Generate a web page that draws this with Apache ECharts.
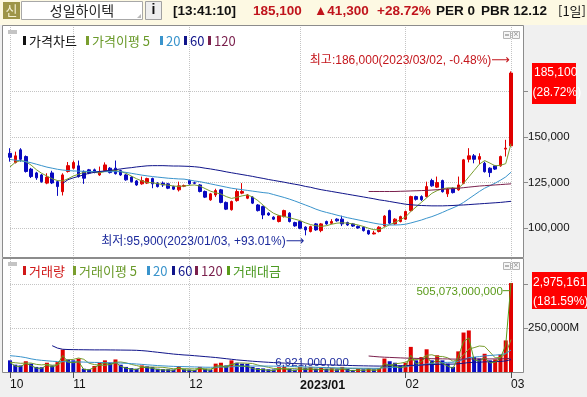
<!DOCTYPE html>
<html lang="ko">
<head>
<meta charset="utf-8">
<title>성일하이텍</title>
<script src="https://cdn.jsdelivr.net/npm/echarts@6.0.0/dist/echarts.min.js"></script>
<style>
  html, body { margin: 0; padding: 0; background: #f0f0f0; }
  #chart { width: 587px; height: 397px; }
</style>
</head>
<body>
<div id="chart"></div>
<script>
// 거래일 (월별)
const tradingDays = {
  '2022/10': [14, 17, 18, 19, 20, 21, 24, 25, 26, 27, 28, 31],
  '2022/11': [1, 2, 3, 4, 7, 8, 9, 10, 11, 14, 15, 16, 17, 18, 21, 22, 23, 24, 25, 28, 29, 30],
  '2022/12': [1, 2, 5, 6, 7, 8, 9, 12, 13, 14, 15, 16, 19, 20, 21, 22, 23, 26, 27, 28, 29],
  '2023/01': [2, 3, 4, 5, 6, 9, 10, 11, 12, 13, 16, 17, 18, 19, 20, 25, 26, 27, 30, 31],
  '2023/02': [1, 2, 3, 6, 7, 8, 9, 10, 13, 14, 15, 16, 17, 20, 21, 22, 23, 24, 27, 28],
  '2023/03': [2]
};

// 일봉 [시가, 종가, 저가, 고가]
const ohlc = [
  [141000,138800,136400,143800],[135900,139600,135400,141900],[142900,137700,136400,143800],[139200,131000,130400,139800],
  [132300,128200,127400,133000],[130200,127500,126400,130800],[129100,125400,124800,129600],[124600,127900,124000,130000],
  [130200,124700,124100,131400],[125400,122700,117600,126000],[119900,129100,117800,130000],[131000,134200,130400,136200],
  [132800,135900,132200,137000],[134100,128200,127600,137000],[131000,127300,124200,131600],[131900,130100,129500,132400],
  [131900,130600,130000,132600],[129100,130900,128600,133700],[131500,134600,131000,136000],[132800,130400,129900,133400],
  [132800,129800,129300,137000],[131500,129100,128600,132000],[129100,126400,125900,129600],[127900,125400,124900,128400],
  [125800,123600,123100,126300],[124200,126000,123700,128200],[124600,127100,124100,127600],[127100,124200,121800,127600],
  [124600,122700,122200,125100],[124600,123600,122500,125500],[124200,121800,121300,124700],[122700,121300,120800,123200],
  [120900,123100,120000,125400],[122900,123300,122400,123800],[126000,124200,123700,126500],[124800,124500,124000,125400],
  [123600,120000,119500,124100],[120000,116900,116400,120500],[115400,118700,114900,119200],[118100,120500,117000,121500],
  [120900,114000,113500,121400],[114000,110300,109800,114500],[110000,114500,109500,115000],[115000,120000,114400,121300],
  [119100,120000,118500,124600],[116300,118100,115800,118600],[116900,113600,113100,117400],[112600,109500,109000,113100],
  [111700,107100,104800,112200],[108100,107100,106600,108600],[105900,104800,104300,106400],[103500,106600,103000,107100],
  [106200,109500,105700,110000],[108100,103500,103000,108600],[102900,101100,100600,103400],[103500,99800,99300,104000],
  [100400,98900,95900,100900],[98000,100700,97500,101200],[102200,98900,98400,102700],[98500,102200,97600,102700],
  [103500,102200,101700,104000],[102500,103500,102000,104800],[104800,103900,103400,105300],[104800,102200,101000,106700],
  [102900,101600,101100,103400],[102200,101000,100500,102700],[100800,100000,99500,101300],[100400,98500,98000,100900],
  [98500,96700,96200,99000],[96700,97200,96400,98400],[98000,100400,97500,100900],[101100,106500,100600,107000],
  [109500,102600,102100,110000],[102200,104800,101700,105300],[103500,106200,103000,106700],[104800,109000,104300,109500],
  [109500,117200,109000,117700],[117200,115700,115000,117700],[117200,115500,114800,117900],[117200,122700,116700,125400],
  [126000,123100,122600,127000],[122400,124900,121900,128200],[126000,119900,119400,126500],[118700,121300,117000,121800],
  [121800,119400,118900,122300],[120900,123600,120400,128200],[124500,137400,124000,137900],[137700,139600,136000,143800],
  [139600,137700,135500,140600],[137700,139200,135000,141000],[135500,130900,130400,136400],[132800,130400,127900,133300],
  [134100,132300,131800,134600],[134100,139200,133600,139700],[143300,143800,139200,148400],[145100,185100,144600,186000]
];

// 가격 이동평균
const ma5 = [
  133500,136000,137000,136400,134500,132000,130000,128500,127000,126000,
  125800,127000,128500,129500,130500,131000,130500,130200,131000,131500,
  131500,131000,130000,128500,127000,125800,125000,124800,124300,123800,
  123500,123000,122800,123000,123400,123600,123000,121600,120200,119300,
  118600,117200,116200,116800,117600,118100,117000,115000,112500,110000,
  108000,106800,106200,105600,104800,104000,102800,101800,101200,100800,
  101200,102000,102600,102800,102600,102200,101600,100800,99800,99000,
  99000,100300,101800,103000,104500,106000,109000,111500,114000,116500,
  119000,120500,121500,122000,122000,121700,124500,128000,131500,135000,
  137000,135600,134100,134400,135300,146200
];
const ma20 = [
  137600,137200,136900,136400,135800,135000,134200,133400,132800,132200,
  131800,131500,131300,131200,131100,131000,130900,130900,130900,130900,
  130900,130900,130500,130000,129500,129000,128600,128200,127900,127600,
  127300,127100,126900,126800,126300,125800,125400,124800,124200,123600,
  123000,122400,121800,121400,121000,120600,120200,119800,119400,119100,
  118300,117500,116700,115800,114800,113700,112600,111500,110300,109300,
  108500,107800,107000,106300,105600,105000,104400,103800,103200,102600,
  102100,101800,101600,101600,101700,102000,102700,103500,104300,105300,
  106200,107300,108500,109800,111000,112300,114000,116000,118000,120000,
  121800,123200,124600,126200,128000,130600
];
const ma60Start = 10;
const ma60 = [
  124500,126500,127500,128300,129200,130000,130500,131000,131300,131600,
  132000,132400,132800,133100,133500,133800,134100,134200,134200,134200,
  134100,134000,134000,133900,133800,133600,133300,132800,132400,131900,
  131400,130800,130300,129800,129300,128800,128300,127700,127200,126600,
  126100,125600,125100,124500,124000,123500,122800,122300,121600,121000,
  120500,120000,119500,119000,118500,118000,117500,117000,116500,116000,
  115400,115000,114500,114000,113500,113000,112700,112500,112300,112200,
  112100,112100,112100,112200,112300,112500,112600,112800,113000,113200,
  113400,113600,113800,114000,114300,114600
];
const ma120Start = 68;
const ma120 = [
  120000,120000,120000,120000,120000,120000,120100,120200,120300,120400,
  120500,120600,120800,121000,121200,121400,121600,121800,122100,122400,
  122700,123000,123200,123400,123600,123800,124000,124200
];

// 거래량 (주)
const volume = [
  390000,245000,220000,360000,280000,170000,160000,310000,220000,330000,
  750000,420000,390000,450000,110000,90000,200000,310000,390000,310000,
  420000,245000,170000,130000,110000,220000,190000,170000,110000,95000,
  90000,80000,200000,90000,80000,70000,170000,110000,80000,280000,
  310000,220000,390000,310000,280000,270000,170000,130000,120000,90000,
  85000,160000,165000,110000,80000,170000,130000,170000,110000,160000,
  110000,130000,90000,170000,110000,68500,110000,90000,130000,90000,
  130000,450000,360000,310000,220000,310000,840000,390000,500000,760000,
  390000,560000,390000,280000,170000,690000,1320000,1390000,500000,450000,
  610000,390000,420000,580000,1056558,2975161
];
// 거래이평 (천주)
const volMa5 = [
  330,310,290,300,299,255,238,256,228,238,
  354,406,422,468,424,292,248,232,220,260,
  326,335,307,255,215,175,164,164,160,157,
  131,109,115,111,108,104,122,104,102,142,
  190,196,256,302,302,294,284,232,194,156,
  119,117,124,122,120,137,131,132,132,148,
  136,136,120,132,120,114,110,110,102,100,
  110,178,230,274,294,330,408,414,452,560,
  576,520,520,476,360,418,570,770,814,870,
  854,670,474,490,611,1084
];
const volMa20 = [
  545,530,510,480,440,410,390,375,360,350,
  345,340,338,336,332,325,320,318,315,310,
  305,300,290,280,268,255,240,228,215,205,
  196,188,182,180,175,170,165,160,158,160,
  165,168,175,182,190,198,200,200,200,198,
  196,195,192,188,180,175,170,165,158,152,
  145,140,136,133,132,130,128,126,125,124,
  124,138,150,158,162,172,205,218,235,268,
  282,302,316,323,326,358,418,480,498,515,
  538,552,566,580,615,733
];
const volMa60Start = 8;
const volMa60 = [
  880,800,760,752,748,746,744,742,740,740,
  740,738,736,734,732,730,725,715,700,680,
  660,640,620,600,585,570,560,545,530,515,
  500,485,465,445,425,405,390,375,360,348,
  336,325,315,305,298,290,282,275,268,262,
  255,248,242,236,230,225,220,215,210,206,
  203,200,198,200,203,206,208,212,222,226,
  232,244,248,255,260,263,264,274,294,316,
  322,328,338,342,347,354,370,415
];
const volMa120Start = 68;
const volMa120 = [
  535,520,505,495,488,480,472,465,460,455,450,448,445,442,
  440,436,432,430,432,436,436,436,438,438,438,440,445,462
];
// 거래대금 (백만원)
const tradeValue = [
  54200,33800,30800,48600,36400,21900,20300,39100,27900,40900,
  93800,55900,52300,59000,14200,11800,26200,40300,51900,40600,
  55000,31900,21800,16400,13800,27500,23900,21300,13600,11800,
  11100,9800,24400,11100,10000,8700,20700,13000,9400,33300,
  36300,24600,43700,36600,33600,31600,19600,14400,13100,9700,
  8900,16800,17800,11700,8200,17200,12900,16900,11000,16000,
  11300,13400,9400,17500,11200,6921,11000,9000,12700,8700,
  12900,46800,38200,32200,23100,33200,94900,45200,58000,91200,
  48400,69400,48000,33600,20400,84900,172900,193200,69300,62100,
  81100,51100,55900,79500,152100,505073
];

// 축 눈금 (가려지는 눈금은 글자 없이)
const priceTicks = [100000, 125000, 150000, 175000];
const priceLabels = [100000, 125000, 150000];
const valueTicks = [250000, 500000];
const valueLabels = [250000];

const KR = "'Noto Sans CJK KR', sans-serif";
const NUM = "'Liberation Sans', 'Noto Sans CJK KR', sans-serif";
const upC = '#e00000', dnC = '#0a0ac0';
const c5 = '#7a9e2e', c20 = '#3a94cc', c60 = '#10148a', c120 = '#7a1f4c', cTv = '#5a9a1a';

const cats = [];
const monthStart = {};
Object.keys(tradingDays).forEach(m => {
  tradingDays[m].forEach((d, i) => {
    if (i === 0) monthStart[cats.length] = m;
    cats.push(m + '/' + String(d).padStart(2, '0'));
  });
});
const isMonth = i => monthStart[i] !== undefined;
const fmt = v => Math.round(v).toLocaleString('en-US');
const pad = (start, arr) => new Array(start).fill('-').concat(arr);

const last = ohlc.length - 1;
const lastClose = ohlc[last][1];
const prevClose = ohlc[last - 1][1];
const highs = ohlc.map(d => d[3]);
const lows = ohlc.map(d => d[2]);
const hiVal = Math.max(...highs), hiIdx = highs.indexOf(hiVal);
const loVal = Math.min(...lows), loIdx = lows.indexOf(loVal);
const tvMax = Math.max(...tradeValue), tvMaxIdx = tradeValue.indexOf(tvMax);
const tvMin = Math.min(...tradeValue), tvMinIdx = tradeValue.indexOf(tvMin);
const sign = v => (v >= 0 ? '+' : '') + v.toFixed(2);

const chart = echarts.init(document.getElementById('chart'));

function line(name, data, color, xi, yi) {
  return { name, type: 'line', xAxisIndex: xi, yAxisIndex: yi, data, symbol: 'none', showSymbol: false,
    lineStyle: { width: 1, color }, itemStyle: { color }, silent: true, z: 3 };
}

const gridRight = 76;
chart.setOption({
  animation: false,
  backgroundColor: '#f0f0f0',
  grid: [
    { left: 10, right: gridRight, top: 27, bottom: 140 },
    { left: 10, right: gridRight, top: 259, bottom: 25 }
  ],
  xAxis: [
    { type: 'category', gridIndex: 0, data: cats, boundaryGap: false,
      axisLine: { show: false }, axisTick: { show: false }, axisLabel: { show: false },
      splitLine: { show: true, interval: isMonth, lineStyle: { color: '#c4c4c4', type: 'dotted' } } },
    { type: 'category', gridIndex: 1, data: cats, boundaryGap: false,
      axisLine: { show: false },
      axisTick: { show: true, interval: isMonth, length: 6, lineStyle: { color: '#505050' } },
      axisLabel: { show: true, interval: isMonth, align: 'left', margin: 7, color: '#111', fontSize: 12, fontFamily: NUM,
        formatter: (v, i) => {
          const m = monthStart[i];
          if (!m) return '';
          return m.endsWith('/01') ? '{y|' + m + '}' : m.slice(5);
        },
        rich: { y: { fontWeight: 'bold', fontSize: 12.5, fontFamily: NUM, color: '#111' } } },
      splitLine: { show: true, interval: isMonth, lineStyle: { color: '#c4c4c4', type: 'dotted' } } }
  ],
  yAxis: [
    { type: 'value', gridIndex: 0, position: 'right', offset: 12, min: 84000, max: 210400,
      axisLine: { show: false },
      axisTick: { show: true, length: 5, customValues: priceTicks, lineStyle: { color: '#8a8a8a' } },
      axisLabel: { customValues: priceLabels, margin: 5, color: '#111', fontSize: 11.5, fontFamily: NUM, formatter: v => fmt(v) },
      splitLine: { show: true, lineStyle: { color: '#c4c4c4', type: 'dotted' } } },
    { type: 'value', gridIndex: 1, min: 0, max: 3780000, show: false },
    { type: 'value', gridIndex: 1, position: 'right', offset: 12, min: 0, max: 641000,
      axisLine: { show: false },
      axisTick: { show: true, length: 5, customValues: valueTicks, lineStyle: { color: '#8a8a8a' } },
      axisLabel: { customValues: valueLabels, margin: 5, color: '#111', fontSize: 11.5, fontFamily: NUM, formatter: v => fmt(v) + 'M' },
      splitLine: { show: true, lineStyle: { color: '#c4c4c4', type: 'dotted' } } }
  ],
  series: [
    { name: '가격차트', type: 'candlestick', xAxisIndex: 0, yAxisIndex: 0, data: ohlc, barWidth: 3, clip: false,
      itemStyle: { color: upC, color0: dnC, borderColor: upC, borderColor0: dnC, borderWidth: 1 },
      markPoint: { symbol: 'circle', symbolSize: 0, silent: true, data: [
        { coord: [cats[hiIdx], hiVal], label: { show: true, position: 'left', distance: 1, offset: [0, -11],
          formatter: `{t|최고:${fmt(hiVal)}(${cats[hiIdx]}, ${sign((lastClose - hiVal) / hiVal * 100)}%)}{a|⟶}`,
          rich: { t: { color: '#c4161c', fontSize: 12, fontFamily: NUM }, a: { color: '#c4161c', fontSize: 13, fontFamily: 'DejaVu Sans' } } } },
        { coord: [cats[loIdx], loVal], label: { show: true, position: 'left', distance: 1, offset: [0, 6],
          formatter: `{t|최저:${fmt(loVal)}(${cats[loIdx]}, ${sign((lastClose - loVal) / loVal * 100)}%)}{a|⟶}`,
          rich: { t: { color: '#1c2a9c', fontSize: 12, fontFamily: NUM }, a: { color: '#1c2a9c', fontSize: 13, fontFamily: 'DejaVu Sans' } } } }
      ] } },
    line('가격이평 5', ma5, c5, 0, 0),
    line('20', ma20, c20, 0, 0),
    line('60', pad(ma60Start, ma60), c60, 0, 0),
    line('120', pad(ma120Start, ma120), c120, 0, 0),
    { name: '거래량', type: 'bar', xAxisIndex: 1, yAxisIndex: 1, barWidth: 4, clip: false, silent: true,
      data: volume.map((v, i) => ({ value: v, itemStyle: { color: i > 0 && v > volume[i - 1] ? upC : dnC } })) },
    line('거래이평 5', volMa5.map(v => v * 1000), c5, 1, 1),
    line('거래이평 20', volMa20.map(v => v * 1000), c20, 1, 1),
    line('거래이평 60', pad(volMa60Start, volMa60.map(v => v * 1000)), c60, 1, 1),
    line('거래이평 120', pad(volMa120Start, volMa120.map(v => v * 1000)), c120, 1, 1),
    Object.assign(line('거래대금', tradeValue, cTv, 1, 2), {
      markPoint: { symbol: 'circle', symbolSize: 0, silent: true, data: [
        { coord: [cats[tvMaxIdx], tvMax], label: { show: true, position: 'left', distance: 1, offset: [0, 9],
          formatter: `{t|${fmt(tvMax * 1e6)}}{a|─}`,
          rich: { t: { color: cTv, fontSize: 11.5, fontFamily: NUM }, a: { color: cTv, fontSize: 12, fontFamily: 'DejaVu Sans' } } } },
        { coord: [cats[tvMinIdx], tvMin], label: { show: true, position: 'left', distance: 4, offset: [0, -8],
          formatter: fmt(tvMin * 1e6), color: '#1c2a9c', fontSize: 11.5, fontFamily: NUM } }
      ] } })
  ]
});

// 화면 구성 요소
const G = [];
const rect = (x, y, w, h, fill, stroke, z) => G.push({ type: 'rect', z: z === undefined ? -10 : z, silent: true,
  shape: { x, y, width: w, height: h }, style: { fill, stroke: stroke || null, lineWidth: 1 } });
const text = (x, y, t, font, fill, align) => G.push({ type: 'text', z: 20, silent: true, x, y,
  style: { text: t, font, fill, textAlign: align || 'left', textVerticalAlign: 'middle' } });
const legend = (x, y, color, label, textColor) => {
  rect(x, y - 5, 3, 9, color, null, 20);
  text(x + 6, y, label, '13px ' + KR, textColor || color);
};

// 상단 바
rect(0, 0, 587, 25, '#fdf9e3');
rect(3, 2, 17, 17, '#9e9548', null, 5);
text(11.5, 10.5, '신', '13px ' + KR, '#f4f0d0', 'center');
rect(21.5, 1.5, 121, 18, '#ffffff', '#a8a8a8', 5);
text(82, 10.5, '성일하이텍', '14px ' + KR, '#222', 'center');
G.push({ type: 'polygon', z: 6, silent: true, shape: { points: [[141, 14], [141, 18], [137, 18]] }, style: { fill: '#b8b8b8' } });
rect(145.5, 1.5, 16, 18, '#eeeeee', '#a0a0a0', 5);
text(153.5, 10.5, 'i', 'bold 14px ' + NUM, '#111', 'center');
const hdr = 'bold 13.5px ' + NUM;
text(173, 11, '[13:41:10]', hdr, '#111');
text(253, 11, fmt(lastClose), hdr, '#c0141c');
text(314, 11, '▲' + fmt(lastClose - prevClose), hdr, '#c0141c');
text(377, 11, '+' + ((lastClose - prevClose) / prevClose * 100).toFixed(2) + '%', hdr, '#c0141c');
text(436, 11, 'PER 0', hdr, '#111');
text(481, 11, 'PBR 12.12', hdr, '#111');
text(558, 11, '[1일]', '13px ' + KR, '#111');

// 패널
rect(2.5, 25.5, 521, 232, '#ffffff', '#8c8c8c');
rect(2.5, 258.5, 521, 114, '#ffffff', '#8c8c8c');
rect(8, 30, 9, 4, '#c4c4c4', null, 5);
rect(8, 262, 9, 4, '#c4c4c4', null, 5);
[31, 262].forEach(y => {
  rect(503.5, y + 0.5, 7, 7, '#f6f6f6', '#b4b4b4', 5);
  rect(505, y + 3, 4, 2, '#b4b4b4', null, 6);
  rect(512.5, y + 0.5, 7, 7, '#f6f6f6', '#b4b4b4', 5);
  text(516, y + 4, '×', '9px ' + NUM, '#9a9a9a', 'center');
});

// 범례
legend(23, 41, '#111', '가격차트');
legend(86, 41, c5, '가격이평 5', '#6a9a2a');
legend(160, 41, c20, '20');
legend(184, 41, c60, '60');
legend(208, 41, c120, '120');
legend(23, 271, '#d01818', '거래량');
legend(73, 271, c5, '거래이평 5', '#6a9a2a');
legend(147, 271, c20, '20');
legend(172, 271, c60, '60');
legend(195, 271, c120, '120');
legend(227, 271, cTv, '거래대금', '#4c9a22');

// 현재가 / 거래량 표시
const py = chart.convertToPixel({ yAxisIndex: 0 }, lastClose);
rect(532, Math.round(py) - 10, 44, 41, '#ff0000', null, 15);
text(534, py, fmt(lastClose), '12px ' + NUM, '#ffffff');
text(532.5, py + 20, '(' + ((lastClose - prevClose) / prevClose * 100).toFixed(2) + '%)', '12px ' + NUM, '#ffffff');
const lastVol = volume[last], prevVol = volume[last - 1];
const pv = chart.convertToPixel({ yAxisIndex: 1 }, lastVol);
rect(532, Math.round(pv) - 11, 55, 37, '#ff0000', null, 15);
text(533, pv, fmt(lastVol), '12px ' + NUM, '#ffffff');
text(533, pv + 19, '(' + ((lastVol / prevVol - 1) * 100).toFixed(2) + '%)', '12px ' + NUM, '#ffffff');

chart.setOption({ graphic: G });
</script>
</body>
</html>
